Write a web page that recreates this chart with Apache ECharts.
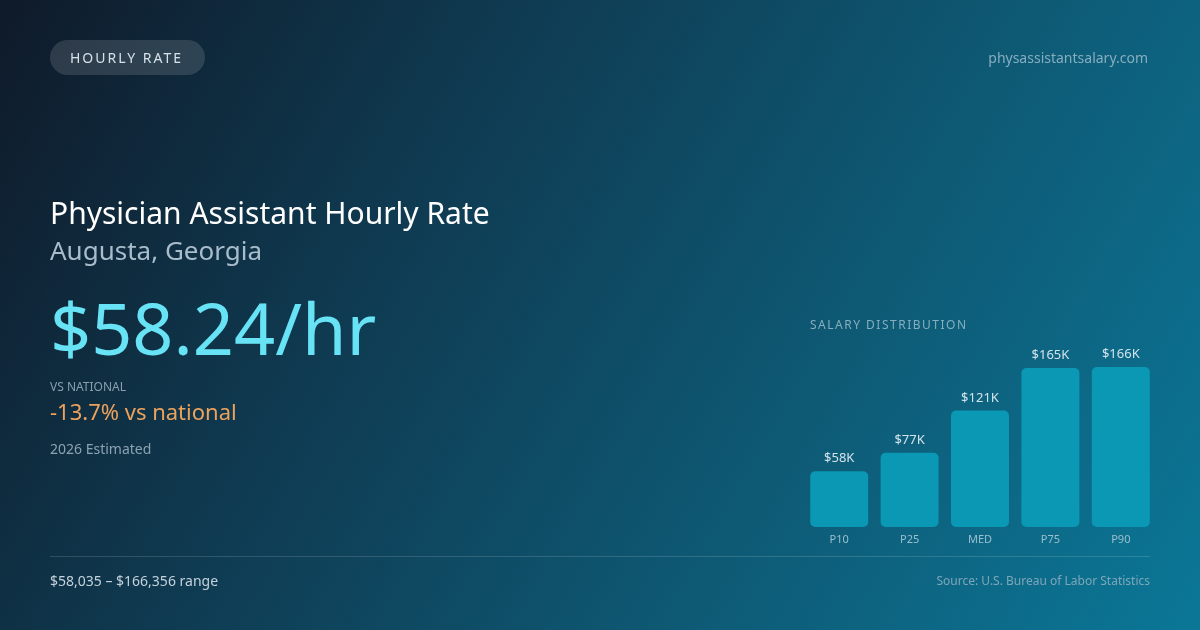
<!DOCTYPE html>
<html>
<head>
    <meta charset="UTF-8">
    <title>Physician Assistant Hourly Rate - Augusta, Georgia</title>
    <script src="https://cdn.jsdelivr.net/npm/echarts@6.0.0/dist/echarts.min.js"></script>
    <style>
        html, body {
            margin: 0;
            padding: 0;
        }

        body {
            width: 1200px;
            height: 630px;
            overflow: hidden;
            position: relative;
            font-family: "Noto Sans", sans-serif;
            background: linear-gradient(120deg, #0f1a29 0%, #0f3c53 35%, #0e5873 65%, #0b7797 100%);
        }

        .txt {
            position: absolute;
            line-height: 1;
            white-space: nowrap;
        }

        /* pill on top left */
        .pill {
            position: absolute;
            left: 50px;
            top: 40px;
            width: 155px;
            height: 35px;
            border-radius: 18px;
            background: rgba(255, 255, 255, 0.13);
        }

        #chart {
            position: absolute;
            left: 0;
            top: 0;
            width: 1200px;
            height: 630px;
        }

        .divider {
            position: absolute;
            left: 50px;
            top: 556px;
            width: 1100px;
            height: 1px;
            background: rgba(255, 255, 255, 0.14);
        }
    </style>
</head>
<body>
    <div id="chart"></div>

    <div class="pill"></div>
    <div class="txt" style="left:70px; top:51px; font-size:14px; letter-spacing:2px; color:#d6e0e8;">HOURLY RATE</div>
    <div class="txt" style="right:52px; top:51px; font-size:14px; color:#86aebf;">physassistantsalary.com</div>

    <div class="txt" style="left:50px; top:198px; font-size:30px; color:#ffffff;">Physician Assistant Hourly Rate</div>
    <div class="txt" style="left:50px; top:237px; font-size:26px; color:#a8bccb;">Augusta, Georgia</div>
    <div class="txt" style="left:50px; top:291px; font-size:72px; color:#67e3f5;">$58.24/hr</div>

    <div class="txt" style="left:50px; top:381px; font-size:12px; color:#879fae;">VS NATIONAL</div>
    <div class="txt" style="left:50px; top:400px; font-size:22px; color:#eda25c;">-13.7% vs national</div>
    <div class="txt" style="left:50px; top:442px; font-size:14px; color:#8ba3b1;">2026 Estimated</div>

    <div class="txt" style="left:810px; top:319px; font-size:12px; letter-spacing:1.5px; color:#86aebf;">SALARY DISTRIBUTION</div>

    <div class="divider"></div>
    <div class="txt" style="left:50px; top:574px; font-size:14px; color:#c3d2dc;">$58,035 – $166,356 range</div>
    <div class="txt" style="right:50px; top:575px; font-size:12px; color:#7fa6b8;">Source: U.S. Bureau of Labor Statistics</div>

    <script>
// salary distribution data (annual, USD)
const percentiles = ['P10', 'P25', 'MED', 'P75', 'P90'];
const salaries = [58035, 77200, 121100, 165300, 166356];
const salaryLabels = ['$58K', '$77K', '$121K', '$165K', '$166K'];

const chart = echarts.init(document.getElementById('chart'), null, { renderer: 'canvas' });

chart.setOption({
    backgroundColor: 'transparent',
    animation: false,
    grid: {
        left: 804,
        right: 44,
        top: 367,
        bottom: 103
    },
    xAxis: {
        type: 'category',
        data: percentiles,
        axisLine: { show: false },
        axisTick: { show: false },
        axisLabel: {
            color: '#9bbfce',
            fontSize: 11,
            fontFamily: 'Noto Sans',
            margin: 7
        }
    },
    yAxis: {
        type: 'value',
        min: 0,
        max: 166356,
        show: false,
        splitLine: { show: false }
    },
    series: [{
        type: 'bar',
        barWidth: 58,
        data: salaries,
        itemStyle: {
            color: '#0a98b4',
            borderRadius: 5
        },
        label: {
            show: true,
            position: 'top',
            distance: 6,
            color: '#d3e3ea',
            fontSize: 13,
            fontFamily: 'Noto Sans',
            formatter: p => salaryLabels[p.dataIndex]
        }
    }]
});
    </script>
</body>
</html>
